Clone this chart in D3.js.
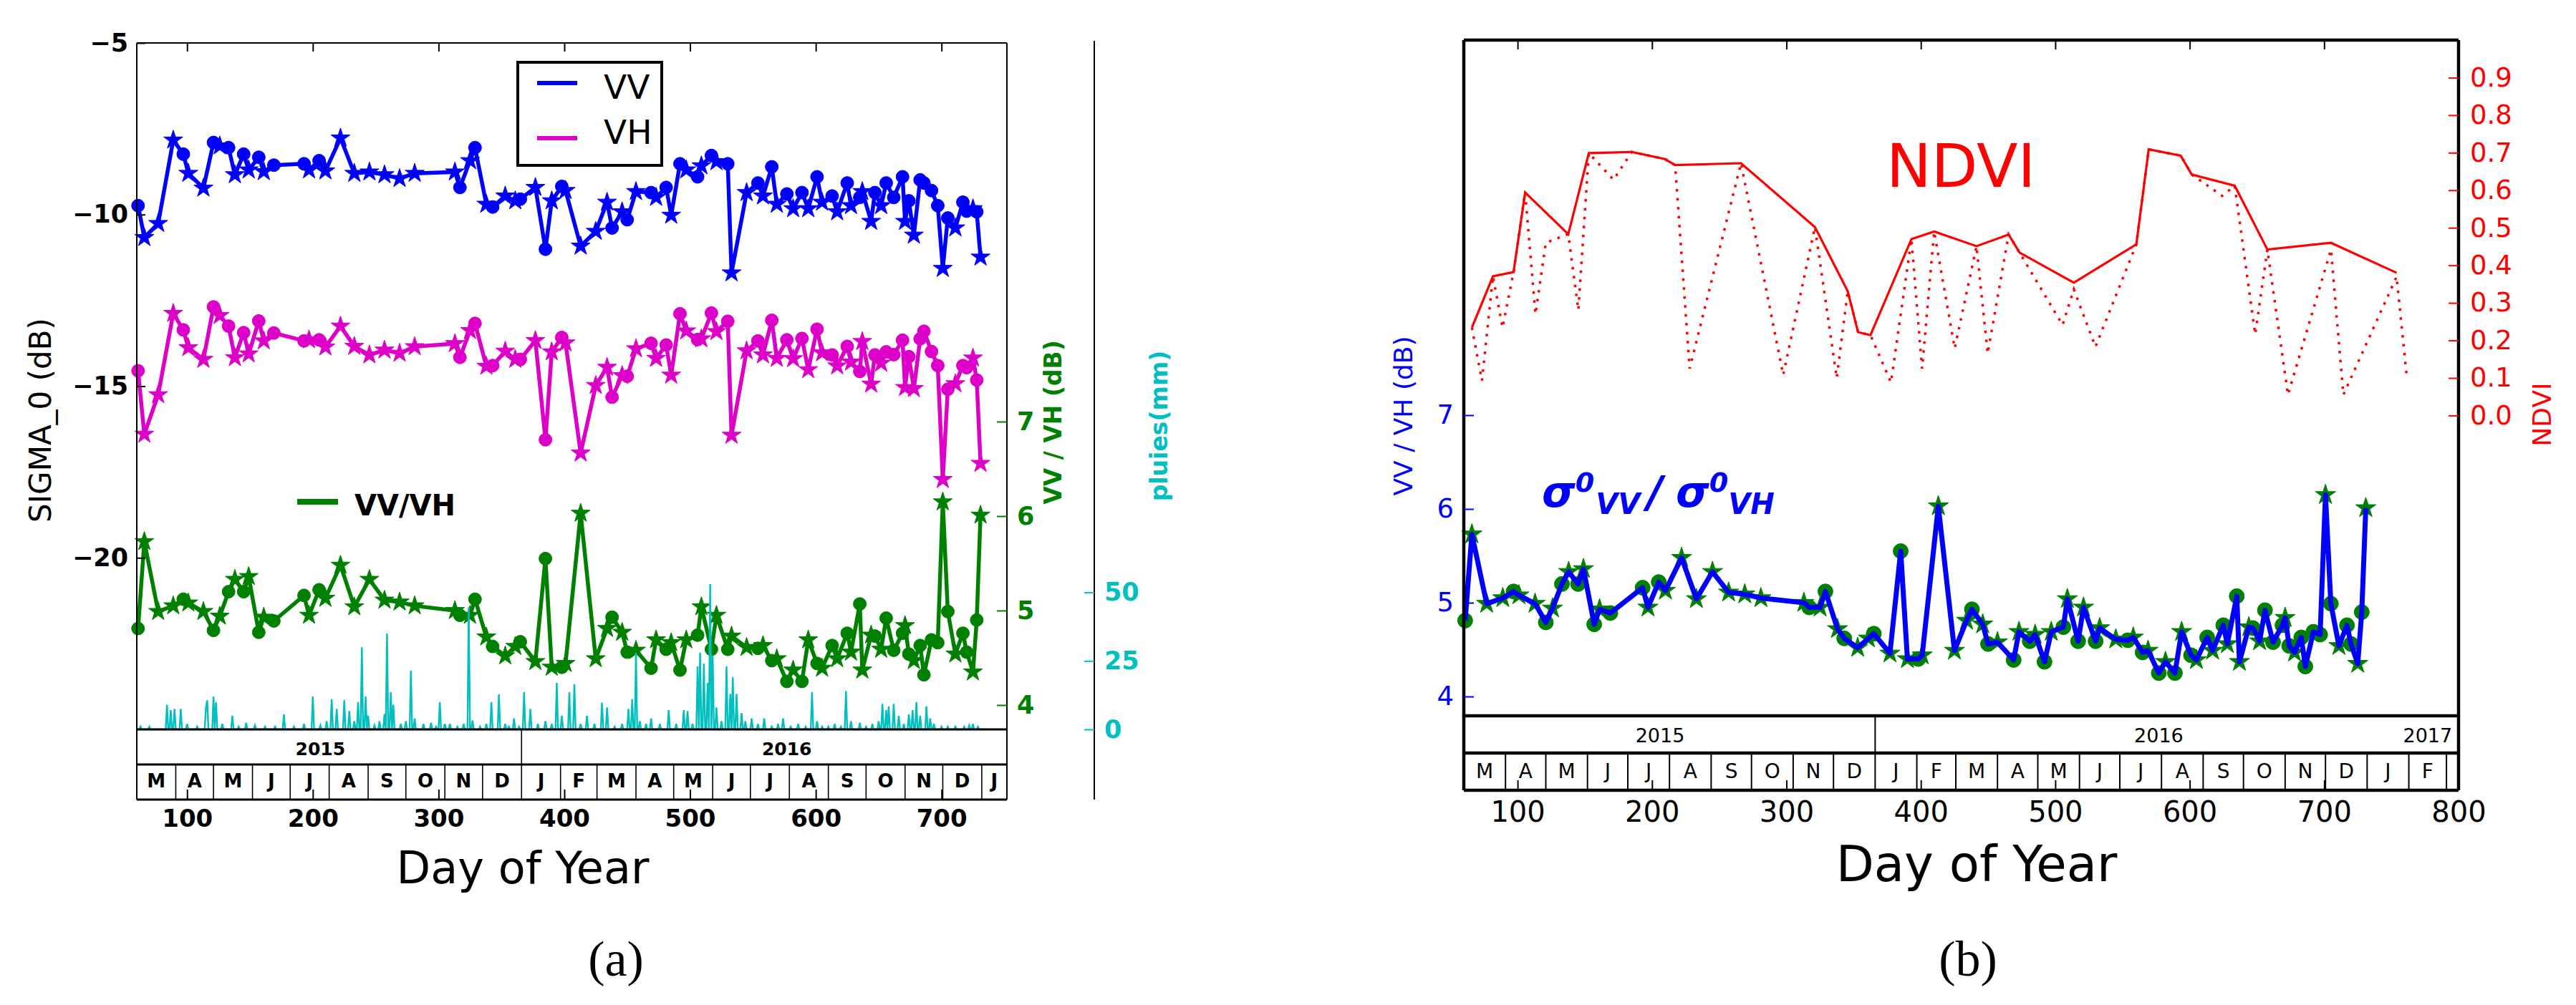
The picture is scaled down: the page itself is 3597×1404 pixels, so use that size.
<!DOCTYPE html>
<html><head><meta charset="utf-8">
<script src="https://cdn.jsdelivr.net/npm/d3@7"></script>
<style>body{margin:0;background:#fff} svg{display:block}</style>
</head><body><svg id="c" width="3597" height="1404" font-family="DejaVu Sans, sans-serif"></svg>
<script>
// ---------------- DATA ----------------
const days  = [61,66,77,89,97,101,113,121,126,133,138,145,149,157,161,169,193,197,205,210,222,233,245,257,269,281,313,317,325,329,338,343,353,361,365,377,385,390,398,401,413,425,434,438,446,450,457,469,473,481,485,492,497,506,509,517,521,530,533,545,554,558,565,569,577,582,589,594,601,605,613,617,625,628,635,637,644,647,652,656,662,669,671,674,678,683,686,692,697,701,705,711,717,720,725,728,731];
const marks = "cssscsscscscscsccscsssssssscscscsscscscsssscscscscscscscscsscscscscscscscscsscscccscsccccscsccscs".split("");
const vv = [-9.74,-10.67,-10.26,-7.83,-8.24,-8.80,-9.23,-7.90,-8.00,-8.05,-8.84,-8.24,-8.70,-8.33,-8.75,-8.56,-8.52,-8.70,-8.43,-8.73,-7.77,-8.80,-8.76,-8.84,-8.95,-8.80,-8.76,-9.21,-8.43,-8.05,-9.70,-9.78,-9.46,-9.60,-9.55,-9.21,-11.01,-9.60,-9.18,-9.30,-10.92,-10.49,-9.64,-10.39,-9.92,-10.15,-9.33,-9.36,-9.50,-9.21,-10.02,-8.52,-8.70,-8.90,-8.58,-8.28,-8.46,-8.52,-11.70,-9.36,-9.08,-9.46,-8.61,-9.70,-9.40,-9.83,-9.36,-9.83,-8.90,-9.64,-9.46,-9.92,-9.08,-9.74,-9.50,-9.33,-10.20,-9.36,-9.74,-9.08,-9.50,-8.90,-10.20,-9.60,-10.60,-8.99,-9.08,-9.30,-9.74,-11.57,-10.10,-10.39,-9.64,-9.90,-9.83,-9.92,-11.24];
const vh = [-14.55,-16.40,-15.25,-12.88,-13.36,-13.88,-14.22,-12.69,-12.94,-13.25,-14.17,-13.44,-14.06,-13.10,-13.68,-13.45,-13.68,-13.65,-13.65,-13.86,-13.25,-13.84,-14.09,-13.95,-14.04,-13.85,-13.76,-14.16,-13.38,-13.17,-14.42,-14.40,-13.98,-14.22,-14.22,-13.67,-16.56,-14.00,-13.58,-13.74,-16.95,-14.98,-14.45,-15.32,-14.69,-14.71,-13.91,-13.75,-14.19,-13.80,-14.68,-12.89,-13.39,-13.64,-13.62,-12.87,-13.41,-13.11,-16.43,-13.97,-13.68,-14.09,-13.08,-14.19,-13.65,-14.20,-13.61,-14.52,-13.34,-14.03,-14.09,-14.41,-13.84,-14.30,-14.57,-13.70,-14.94,-14.09,-14.33,-14.00,-14.08,-13.66,-15.04,-14.14,-15.07,-13.62,-13.40,-13.99,-14.40,-17.72,-15.09,-14.93,-14.40,-14.46,-14.18,-14.82,-17.25];
const ratio = [4.81,5.73,4.99,5.05,5.12,5.08,4.99,4.79,4.94,5.20,5.33,5.20,5.36,4.77,4.93,4.89,5.16,4.95,5.22,5.13,5.48,5.04,5.33,5.11,5.09,5.05,5.00,4.95,4.95,5.12,4.72,4.62,4.52,4.62,4.67,4.46,5.55,4.40,4.40,4.44,6.03,4.49,4.81,4.93,4.77,4.56,4.58,4.39,4.69,4.59,4.66,4.37,4.69,4.74,5.04,4.59,4.95,4.59,4.73,4.61,4.60,4.63,4.47,4.49,4.25,4.37,4.25,4.69,4.44,4.39,4.63,4.49,4.76,4.56,5.07,4.37,4.74,4.73,4.59,4.92,4.58,4.76,4.84,4.54,4.47,4.63,4.32,4.69,4.66,6.15,4.99,4.54,4.76,4.56,4.35,4.90,6.01];

const rainDays = [63,70,84,87,90,95,100,108,115,116,121,123,128,136,141,147,154,162,170,177,185,193,200,206,211,215,219,225,229,233,236,239,242,244,249,253,257,259,262,264,270,274,278,281,288,294,298,301,305,309,315,320,324,327,333,338,342,348,353,356,360,364,368,373,379,385,390,394,398,404,408,413,418,424,430,434,440,446,451,454,457,460,465,469,476,483,489,495,498,502,506,508,511,514,516,518,521,525,529,532,534,537,541,544,549,554,559,565,570,574,580,586,592,597,601,605,610,615,620,624,628,635,640,645,650,653,656,658,662,666,670,674,677,680,683,688,691,694,700,705,711,718,722,725,729];
const rainMM   = [1,1,9,7,7.5,7.5,2,1,8,10.6,12,10,2,5,1,2.4,1.5,1,1,5.5,1,2,12,1.5,3,11,7.5,10.6,6.7,3,10,30,12,5,1.5,3,5.6,35,13.6,9,2,3,21.5,4,2,2.4,1,10,2,2,1,2,44.6,3.3,1,2,10,12.8,2,1,4,1,13.6,7.5,2,3,2,17,5,13.6,16.5,2,5,2,9.8,8,1,2,7.5,11,28,3,2,4,2,7,2,7,6.7,2,23,28,24,17,53,27,8,3,23,13,19,13,6,3,4,2,4,1,2,4,1,2,1,13.6,3,1,1,2,1,14,3,2.4,1,2,3,9.3,7,8.4,9.3,5,2,5.5,7,10,5,8.4,4,2,1,1,1,1,1.5,2,1];

const ndviDotDays = [66,73.5,81.7,88.8,97,105.6,113.3,121,137.7,145.2,153,171.4,185,209.6,217.2,228,266.2,297.6,321.2,337.4,345.6,353.3,362.5,377.8,393,400.9,409.9,425.2,441.4,449.7,465.3,473.4,505.4,513.8,529.9,560.3,569.5,593.3,601.5,624.2,633.5,648.7,657.8,673.1,705.1,714.3,753.9,761.5];
const ndviDotVals = [0.234,0.093,0.371,0.234,0.382,0.594,0.27,0.46,0.483,0.281,0.699,0.628,0.702,0.683,0.667,0.125,0.672,0.108,0.502,0.10,0.331,0.222,0.214,0.088,0.47,0.125,0.49,0.179,0.451,0.165,0.482,0.434,0.241,0.336,0.183,0.456,0.709,0.692,0.642,0.585,0.612,0.216,0.442,0.055,0.442,0.055,0.37,0.103];
const ndviDays = [66,81.7,97,105.6,137.7,153,185,209.6,217.2,266.2,321.2,345.6,353.3,362.5,393,409.9,441.4,465.3,473.4,513.8,560.3,569.5,593.3,601.5,633.5,657.8,705.1,753.9];
const ndviVals = [0.234,0.371,0.382,0.594,0.483,0.699,0.702,0.683,0.667,0.672,0.502,0.331,0.222,0.214,0.47,0.49,0.451,0.482,0.434,0.354,0.456,0.709,0.692,0.642,0.612,0.442,0.46,0.38];

const monthStarts = [60,91,121,152,182,213,244,274,305,335,366,397,426,457,487,518,548,579,610,640,671,701,732,763,791,821];
const monthLabels = ["M","A","M","J","J","A","S","O","N","D","J","F","M","A","M","J","J","A","S","O","N","D","J","F","M"];
const yearLabels = ["2015","2016","2017"];
const yearPos = [206,577,777];
const yearBreaks = [366];
const xTicksA = [100,200,300,400,500,600,700];
const xTicksB = [100,200,300,400,500,600,700,800];
const yTicksA = [-5,-10,-15,-20];
const ratioTicks = [4,5,6,7];
const rainTicks = [0,25,50];
const ndviTicks = [0,0.1,0.2,0.3,0.4,0.5,0.6,0.7,0.8,0.9];

// ---------------- DRAW ----------------
const svg = d3.select("#c");
const BLUE="#0000ff", MAG="#dd00c8", GREEN="#008000", CYAN="#00bfbf", RED="#ff0000";
const SERIF = "'Liberation Serif', 'DejaVu Serif', serif";
const pts = days.map((d,i)=>({d, m:marks[i], vv:vv[i], vh:vh[i], r:ratio[i]}));

function styleAxis(g, color, size, weight, tw){
  g.attr("font-size",size).attr("font-family","DejaVu Sans, sans-serif").attr("font-weight",weight).attr("color",color);
  g.select(".domain").remove();
  g.selectAll(".tick line").attr("stroke-width",tw||2);
}
function markers(g, data, xf, yf, color, rc, ss){
  g.selectAll(null).data(data).join("path")
    .attr("d", p => d3.symbol(p.m==="c"?d3.symbolCircle:d3.symbolStar, p.m==="c"?Math.PI*rc*rc:ss)())
    .attr("transform", p => `translate(${xf(p)},${yf(p)})`)
    .attr("fill", color).attr("stroke", color).attr("stroke-width", 1);
}
function strips(g, x, P, opt){
  const [d0,d1] = x.domain();
  yearBreaks.forEach(b => g.append("line").attr("x1",x(b)).attr("x2",x(b)).attr("y1",P.bot).attr("y2",P.yr).attr("stroke","#000").attr("stroke-width",opt.thin));
  monthStarts.forEach((s,i)=>{
    if (s>d0 && s<d1) g.append("line").attr("x1",x(s)).attr("x2",x(s)).attr("y1",P.yr).attr("y2",P.mo).attr("stroke","#000").attr("stroke-width",opt.thin);
    if (i<monthLabels.length){
      const a=Math.max(s,d0), b=Math.min(monthStarts[i+1],d1);
      if (b-a>=15) g.append("text").attr("x",x((a+b)/2)).attr("y",opt.monthY).attr("text-anchor","middle")
        .attr("font-size",opt.mfs).attr("font-weight",opt.weight).text(monthLabels[i]);
    }
  });
  yearLabels.forEach((t,i)=>{
    if (yearPos[i]<d1) g.append("text").attr("x",x(yearPos[i])).attr("y",opt.yearY).attr("text-anchor","middle")
      .attr("font-size",opt.yfs).attr("font-weight",opt.weight).text(t);
  });
  [P.bot,P.yr,P.mo].forEach(yy=>g.append("line").attr("x1",P.x0).attr("x2",P.x1).attr("y1",yy).attr("y2",yy).attr("stroke","#000").attr("stroke-width",opt.thick));
  g.append("line").attr("x1",P.x0).attr("x2",P.x0).attr("y1",P.top).attr("y2",P.mo).attr("stroke","#000").attr("stroke-width",opt.spine);
  g.append("line").attr("x1",P.x1).attr("x2",P.x1).attr("y1",P.top).attr("y2",P.mo).attr("stroke","#000").attr("stroke-width",opt.spine);
  g.append("line").attr("x1",P.x0).attr("x2",P.x1).attr("y1",P.top).attr("y2",P.top).attr("stroke","#000").attr("stroke-width",opt.spine);
}

// ===== Panel (a) =====
const A = {x0:191, x1:1406, top:60, bot:1019, yr:1068, mo:1117};
const xa = d3.scaleLinear().domain([60,752]).range([A.x0,A.x1]);
const ya = d3.scaleLinear().domain([-25,-5]).range([A.bot,A.top]);
const yg = d3.scaleLinear().domain([3.742,11.008]).range([A.bot,A.top]);
const yrn = d3.scaleLinear().domain([0,250.5]).range([A.bot,A.top]);
const ga = svg.append("g");

const lineVV = d3.line().x(p=>xa(p.d)).y(p=>ya(p.vv));
const lineVH = d3.line().x(p=>xa(p.d)).y(p=>ya(p.vh));
const lineR  = d3.line().x(p=>xa(p.d)).y(p=>yg(p.r));
ga.append("path").attr("d",lineVV(pts)).attr("fill","none").attr("stroke",BLUE).attr("stroke-width",5.5).attr("stroke-linejoin","round");
markers(ga.append("g"), pts, p=>xa(p.d), p=>ya(p.vv), BLUE, 9, 220);
ga.append("path").attr("d",lineVH(pts)).attr("fill","none").attr("stroke",MAG).attr("stroke-width",5.5).attr("stroke-linejoin","round");
markers(ga.append("g"), pts, p=>xa(p.d), p=>ya(p.vh), MAG, 9, 220);
ga.append("path").attr("d",lineR(pts)).attr("fill","none").attr("stroke",GREEN).attr("stroke-width",5.5).attr("stroke-linejoin","round");
markers(ga.append("g"), pts, p=>xa(p.d), p=>yg(p.r), GREEN, 9, 220);

// rain
const rainMap = new Map(rainDays.map((d,i)=>[d,rainMM[i]]));
const rainSeries = d3.range(61,736).map(d=>[d, rainMap.get(d)||0]);
ga.append("path").attr("d", d3.line().x(r=>xa(r[0])).y(r=>yrn(r[1]))(rainSeries))
  .attr("fill","none").attr("stroke",CYAN).attr("stroke-width",2.4);

strips(ga, xa, A, {thin:1.6, thick:3, spine:2, monthY:1100, yearY:1055, mfs:26, yfs:25, weight:"bold"});

const axL = ga.append("g").attr("transform",`translate(${A.x0},0)`).call(d3.axisLeft(ya).tickValues(yTicksA).tickSize(-12).tickPadding(12));
styleAxis(axL,"#000",35,"bold");
const axB = ga.append("g").attr("transform",`translate(0,${A.mo})`).call(d3.axisBottom(xa).tickValues(xTicksA).tickSize(-14).tickPadding(14));
styleAxis(axB,"#000",34,"bold");
const axT = ga.append("g").attr("transform",`translate(0,${A.top})`).call(d3.axisTop(xa).tickValues(xTicksA).tickSize(-12).tickFormat(""));
styleAxis(axT,"#000",10,"normal");
const axG = ga.append("g").attr("transform",`translate(${A.x1},0)`).call(d3.axisRight(yg).tickValues(ratioTicks).tickSize(-14).tickPadding(14));
styleAxis(axG,GREEN,35,"bold");
ga.append("line").attr("x1",1528).attr("x2",1528).attr("y1",57).attr("y2",A.mo).attr("stroke","#000").attr("stroke-width",2);
const axC = ga.append("g").attr("transform",`translate(1528,0)`).call(d3.axisRight(yrn).tickValues(rainTicks).tickSize(-14).tickPadding(14));
styleAxis(axC,CYAN,35,"bold");

ga.append("text").attr("transform","translate(71,587) rotate(-90)").attr("text-anchor","middle").attr("font-size",42).text("SIGMA_0 (dB)");
ga.append("text").attr("transform","translate(1482,590) rotate(-90)").attr("text-anchor","middle").attr("font-size",33).attr("font-weight","bold").attr("fill",GREEN).text("VV / VH (dB)");
ga.append("text").attr("transform","translate(1630,595) rotate(-90)").attr("text-anchor","middle").attr("font-size",33).attr("font-weight","bold").attr("fill",CYAN).text("pluies(mm)");
ga.append("text").attr("x",730).attr("y",1234).attr("text-anchor","middle").attr("font-size",62).text("Day of Year");
ga.append("text").attr("x",860).attr("y",1363).attr("text-anchor","middle").attr("font-size",70).style("font-family",SERIF).text("(a)");

ga.append("rect").attr("x",723).attr("y",87).attr("width",201).attr("height",144).attr("fill","#fff").attr("stroke","#000").attr("stroke-width",4);
ga.append("line").attr("x1",750).attr("x2",806).attr("y1",116).attr("y2",116).attr("stroke",BLUE).attr("stroke-width",6);
ga.append("text").attr("x",843).attr("y",138).attr("font-size",47).text("VV");
ga.append("line").attr("x1",750).attr("x2",806).attr("y1",193).attr("y2",193).attr("stroke",MAG).attr("stroke-width",6);
ga.append("text").attr("x",843).attr("y",201).attr("font-size",47).text("VH");
ga.append("line").attr("x1",415).attr("x2",472).attr("y1",701).attr("y2",701).attr("stroke",GREEN).attr("stroke-width",8);
ga.append("text").attr("x",495).attr("y",720).attr("font-size",40).attr("font-weight","bold").text("VV/VH");

// ===== Panel (b) =====
const B = {x0:2044, x1:3433, top:56, bot:1000, yr:1052, mo:1104};
const xb = d3.scaleLinear().domain([60,800]).range([B.x0,B.x1]);
const yb = d3.scaleLinear().domain([3.794,11.0]).range([B.bot,B.top]);
const yn = d3.scaleLinear().domain([-0.8,1.0]).range([B.bot,B.top]);
const gb = svg.append("g");

const dotData = ndviDotDays.map((d,i)=>[d,ndviDotVals[i]]);
const solData = ndviDays.map((d,i)=>[d,ndviVals[i]]);
const ln = d3.line().x(r=>xb(r[0])).y(r=>yn(r[1]));
gb.append("path").attr("d",ln(dotData)).attr("fill","none").attr("stroke",RED).attr("stroke-width",3.5).attr("stroke-dasharray","3.5,9");
gb.append("path").attr("d",ln(solData)).attr("fill","none").attr("stroke",RED).attr("stroke-width",3.2);

markers(gb.append("g"), pts, p=>xb(p.d), p=>yb(p.r), GREEN, 10.5, 250);
gb.append("path").attr("d", d3.line().x(p=>xb(p.d)).y(p=>yb(p.r))(pts)).attr("fill","none").attr("stroke",BLUE).attr("stroke-width",7).attr("stroke-linejoin","round");

strips(gb, xb, B, {thin:2, thick:4.5, spine:4.5, monthY:1087, yearY:1037, mfs:28, yfs:27, weight:"normal"});

const bL = gb.append("g").attr("transform",`translate(${B.x0},0)`).call(d3.axisLeft(yb).tickValues(ratioTicks).tickSize(-14).tickPadding(14));
styleAxis(bL,BLUE,37,"normal");
const bR = gb.append("g").attr("transform",`translate(${B.x1},0)`).call(d3.axisRight(yn).tickValues(ndviTicks).tickSize(-14).tickPadding(16).tickFormat(d3.format(".1f")));
styleAxis(bR,RED,37,"normal");
const bB = gb.append("g").attr("transform",`translate(0,${B.mo})`).call(d3.axisBottom(xb).tickValues(xTicksB).tickSize(-14).tickPadding(16));
styleAxis(bB,"#000",40,"normal");
const bT = gb.append("g").attr("transform",`translate(0,${B.top})`).call(d3.axisTop(xb).tickValues(xTicksB).tickSize(-13).tickFormat(""));
styleAxis(bT,"#000",10,"normal");

gb.append("text").attr("transform","translate(1972,581) rotate(-90)").attr("text-anchor","middle").attr("font-size",36).attr("fill",BLUE).text("VV / VH (dB)");
gb.append("text").attr("transform","translate(3562,579) rotate(-90)").attr("text-anchor","middle").attr("font-size",36).attr("fill",RED).text("NDVI");
gb.append("text").attr("x",2634).attr("y",261).attr("font-size",84).attr("fill",RED).text("NDVI");
gb.append("text").attr("x",2760).attr("y",1231).attr("text-anchor","middle").attr("font-size",69).text("Day of Year");
gb.append("text").attr("x",2748).attr("y",1363).attr("text-anchor","middle").attr("font-size",70).style("font-family",SERIF).text("(b)");

const sig = gb.append("text").attr("x",2153).attr("y",708).attr("font-size",60).attr("font-weight","bold").attr("font-style","italic").attr("fill",BLUE);
sig.append("tspan").text("σ");
sig.append("tspan").attr("font-size",38).attr("dy",-21).text("0");
sig.append("tspan").attr("font-size",40).attr("dy",31).attr("dx",2).text("VV");
sig.append("tspan").attr("font-size",60).attr("dy",-10).attr("dx",10).text("/");
sig.append("tspan").attr("font-size",60).attr("dx",18).text("σ");
sig.append("tspan").attr("font-size",38).attr("dy",-21).text("0");
sig.append("tspan").attr("font-size",40).attr("dy",31).attr("dx",0).text("VH");
</script></body></html>
